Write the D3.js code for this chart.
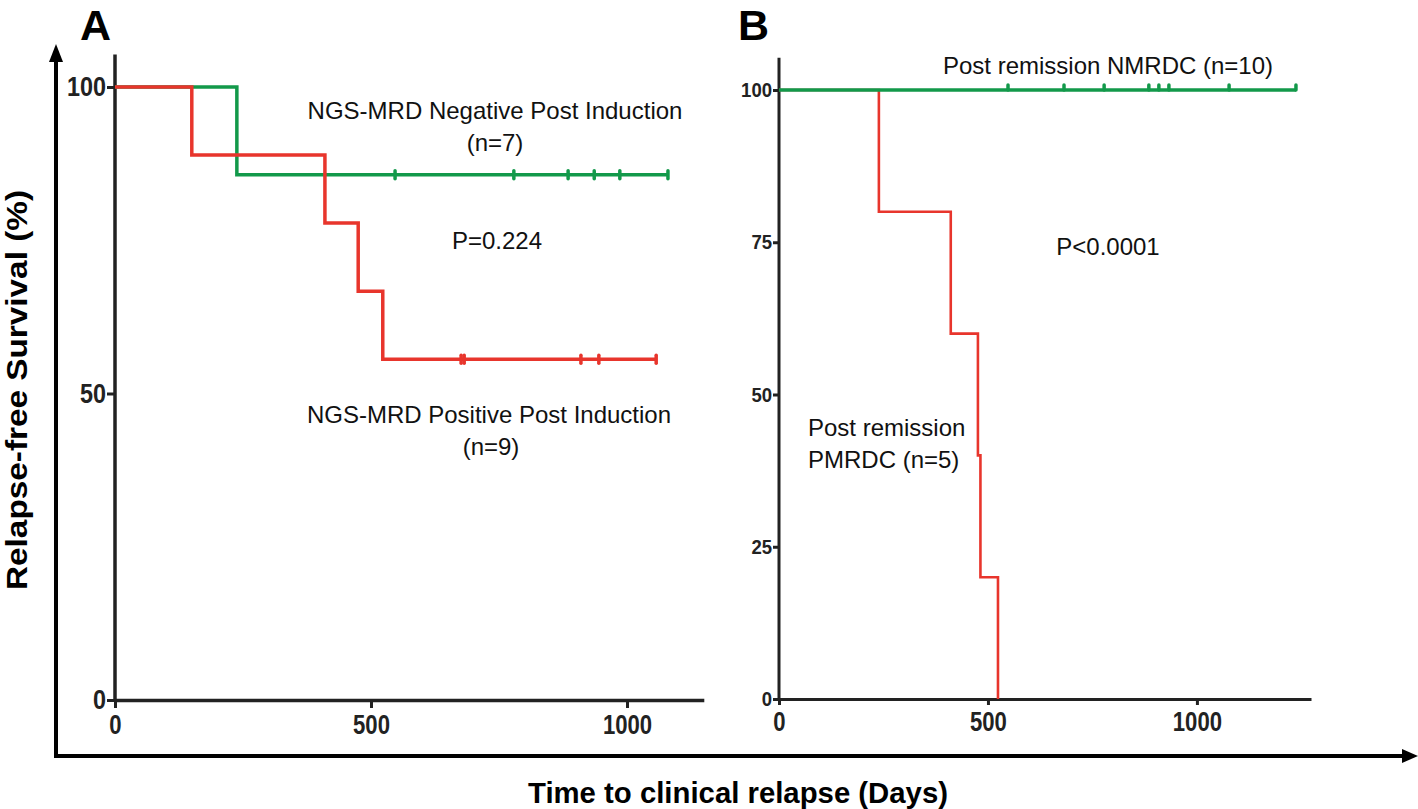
<!DOCTYPE html>
<html><head><meta charset="utf-8">
<script src="https://cdn.jsdelivr.net/npm/d3@7"></script>
<style>
html,body{margin:0;padding:0;background:#fff;}
svg{display:block;}
</style></head>
<body>
<svg id="c" width="1418" height="809"></svg>
<script>
// ---------- data ----------
const xTicks = [0, 500, 1000];
const yTicksA = [0, 50, 100];
const yTicksB = [0, 25, 50, 75, 100];

// Panel A: NGS-MRD negative (green)
const aNegTimes = [0, 238];
const aNegSurv = [100, 85.7];
const aNegEnd = 1080;
const aNegCensor = [547, 779, 885, 936, 986, 1080];
// Panel A: NGS-MRD positive (red)
const aPosTimes = [0, 150, 410, 475, 523];
const aPosSurv = [100, 88.9, 77.8, 66.7, 55.6];
const aPosEnd = 1057;
const aPosCensor = [676, 682, 910, 945, 1057];

// Panel B: NMRDC (green)
const bNegTimes = [0];
const bNegSurv = [100];
const bNegEnd = 1237;
const bNegCensor = [548, 682, 778, 885, 909, 933, 1077, 1237];
// Panel B: PMRDC (red)
const bPosTimes = [0, 239, 411, 476, 482, 524];
const bPosSurv = [100, 80, 60, 40, 20, 0];
const bPosEnd = 524;

const GREEN = "#12994a";
const RED = "#e8352c";
const TICKFONT = "'Liberation Sans',Arial,Helvetica,sans-serif";
const TXTFONT = "'Liberation Sans',Arial,Helvetica,sans-serif";

const svg = d3.select("#c");

// ---------- outer frame arrows ----------
const frame = svg.append("g");
frame.append("line").attr("x1",56).attr("y1",756).attr("x2",56).attr("y2",58)
  .attr("stroke","#000").attr("stroke-width",4);
frame.append("path").attr("d","M56,44 L63,62 L49,62 Z").attr("fill","#000");
frame.append("line").attr("x1",54).attr("y1",756).attr("x2",1404).attr("y2",756)
  .attr("stroke","#000").attr("stroke-width",4);
frame.append("path").attr("d","M1418,756 L1402,749 L1402,763 Z").attr("fill","#000");

// titles
svg.append("text").attr("x",738).attr("y",803).attr("text-anchor","middle")
  .attr("font-family",TXTFONT).attr("font-weight","bold").attr("font-size",30)
  .attr("textLength",420).attr("lengthAdjust","spacingAndGlyphs")
  .text("Time to clinical relapse (Days)");
svg.append("text").attr("transform","translate(27,390) rotate(-90)").attr("text-anchor","middle")
  .attr("font-family",TXTFONT).attr("font-weight","bold").attr("font-size",29)
  .attr("textLength",400).attr("lengthAdjust","spacingAndGlyphs")
  .text("Relapse-free Survival (%)");

// panel letters
svg.append("text").attr("x",80).attr("y",40).attr("font-family",TXTFONT)
  .attr("font-weight","bold").attr("font-size",43).text("A");
svg.append("text").attr("x",738).attr("y",40).attr("font-family",TXTFONT)
  .attr("font-weight","bold").attr("font-size",43).text("B");

function panel(cfg){
  const g = svg.append("g");
  const x = d3.scaleLinear().domain([0, cfg.xMax]).range([cfg.x0, cfg.x1]);
  const y = d3.scaleLinear().domain([0, 100]).range([cfg.y0, cfg.y100]);
  const fmt = d3.format("d");

  // x axis
  const xa = g.append("g").attr("transform",`translate(0,${cfg.y0})`)
    .call(d3.axisBottom(x).tickValues(xTicks).tickFormat(fmt).tickSize(cfg.tickLen).tickSizeOuter(0).tickPadding(7));
  xa.select(".domain").attr("stroke","#222").attr("stroke-width",cfg.axW);
  xa.selectAll(".tick line").attr("stroke","#222").attr("stroke-width",3);
  xa.selectAll("text").attr("font-family",TICKFONT).attr("font-weight","bold")
    .attr("font-size",cfg.xFont).attr("fill","#222")
    .attr("textLength",d=>fmt(d).length*cfg.xDigit).attr("lengthAdjust","spacingAndGlyphs");

  // y axis
  const ya = g.append("g").attr("transform",`translate(${cfg.x0},0)`)
    .call(d3.axisLeft(y).tickValues(cfg.yTicks).tickFormat(fmt).tickSize(cfg.tickLen).tickSizeOuter(0).tickPadding(1));
  ya.select(".domain").remove();
  ya.append("line").attr("x1",0).attr("x2",0).attr("y1",y(0)+1).attr("y2",y(cfg.yTop))
    .attr("stroke","#222").attr("stroke-width",cfg.axW);
  ya.selectAll(".tick line").attr("stroke","#222").attr("stroke-width",3);
  ya.selectAll("text").attr("font-family",TICKFONT).attr("font-weight","bold")
    .attr("font-size",cfg.yFont).attr("fill","#222")
    .attr("textLength",d=>fmt(d).length*cfg.yDigit).attr("lengthAdjust","spacingAndGlyphs");

  const line = d3.line().x(d=>x(d[0])).y(d=>y(d[1])).curve(d3.curveStepAfter);
  cfg.series.forEach(s=>{
    const pts = s.times.map((t,i)=>[t, s.surv[i]]);
    pts.push([s.end, s.surv[s.surv.length-1]]);
    g.append("path").attr("d",line(pts)).attr("fill","none")
      .attr("stroke",s.color).attr("stroke-width",s.w).attr("stroke-linejoin","miter");
    const last = s.surv[s.surv.length-1];
    (s.censor||[]).forEach(c=>{
      g.append("line").attr("x1",x(c)).attr("x2",x(c))
        .attr("y1",y(last)+s.cDown).attr("y2",y(last)-s.cUp)
        .attr("stroke",s.color).attr("stroke-width",3.5).attr("stroke-linecap","round");
    });
  });
  return g;
}

panel({
  xMax:1150, x0:115, x1:703.8, y0:700, y100:87, yTop:105.3,
  yTicks:yTicksA, tickLen:8, axW:3.5, xFont:27, yFont:27, xDigit:12.3, yDigit:13,
  series:[
    {times:aNegTimes, surv:aNegSurv, end:aNegEnd, censor:aNegCensor, color:GREEN, w:3.5, cUp:4, cDown:4},
    {times:aPosTimes, surv:aPosSurv, end:aPosEnd, censor:aPosCensor, color:RED, w:3.5, cUp:4, cDown:4}
  ]
});
panel({
  xMax:1273, x0:779, x1:1311, y0:699, y100:90, yTop:105.3,
  yTicks:yTicksB, tickLen:6, axW:3, xFont:27, yFont:21, xDigit:12.3, yDigit:10.3,
  series:[
    {times:bPosTimes, surv:bPosSurv, end:bPosEnd, censor:[], color:RED, w:2.6, cUp:0, cDown:0},
    {times:bNegTimes, surv:bNegSurv, end:bNegEnd, censor:bNegCensor, color:GREEN, w:3.5, cUp:5, cDown:0}
  ]
});

// annotations
function txt(x,y,s,anchor){
  svg.append("text").attr("x",x).attr("y",y).attr("text-anchor",anchor||"middle")
    .attr("font-family",TXTFONT).attr("font-size",24).attr("fill","#111").text(s);
}
txt(495,119,"NGS-MRD Negative Post Induction");
txt(495,151,"(n=7)");
txt(497,249,"P=0.224");
txt(489,423,"NGS-MRD Positive Post Induction");
txt(491,455,"(n=9)");
txt(1108,74,"Post remission NMRDC (n=10)");
txt(1108,255,"P<0.0001");
txt(808,436,"Post remission","start");
txt(808,468,"PMRDC (n=5)","start");
</script>
</body></html>
